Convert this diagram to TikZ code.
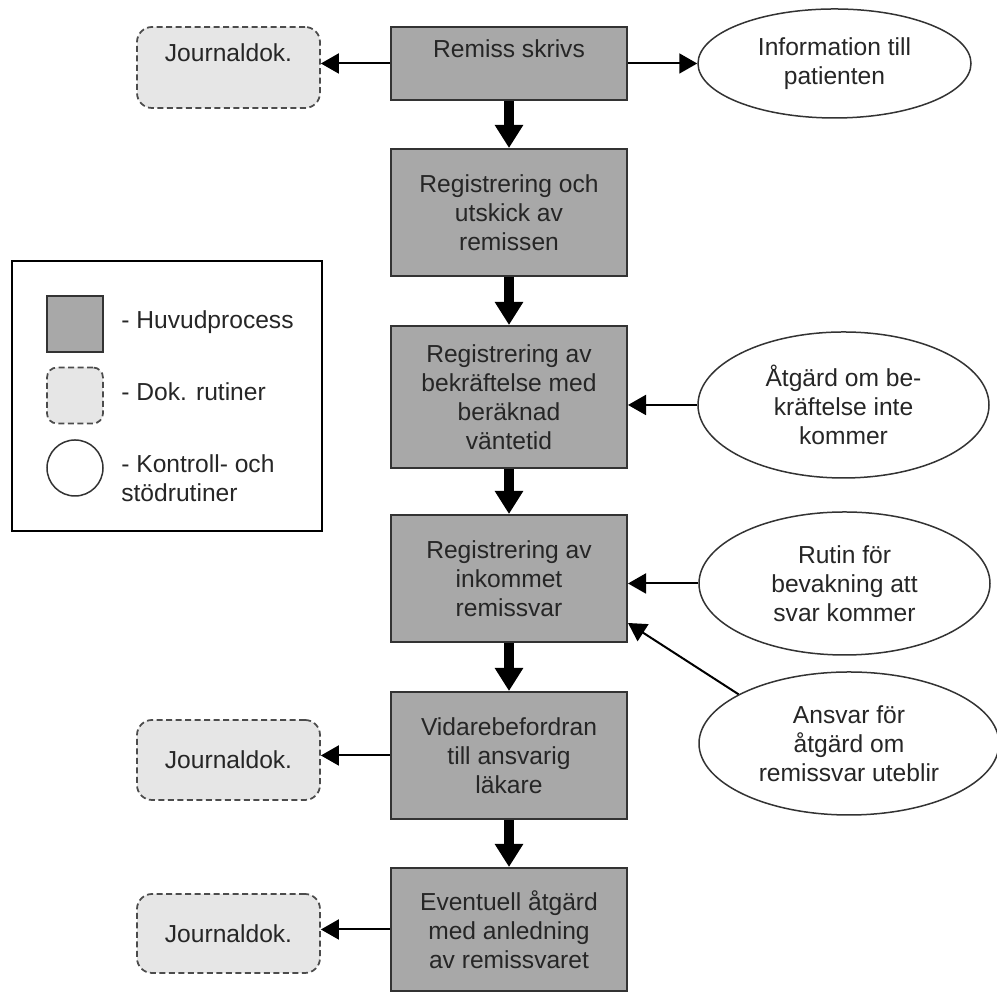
\documentclass[tikz,border=0pt]{standalone}
\usepackage{fontspec}
\setmainfont{Liberation Sans}
\usetikzlibrary{arrows.meta}
\usetikzlibrary{shapes.geometric}
\definecolor{procgray}{RGB}{168,168,168}
\definecolor{dokgray}{RGB}{230,230,230}
\tikzset{
 proc/.style={draw=black!80, line width=0.04cm, fill=procgray, minimum width=4.72cm, inner sep=0, align=center},
 dok/.style={draw=black!70, line width=0.035cm, dash pattern=on 0.12cm off 0.07cm, rounded corners=0.3cm, fill=dokgray, minimum width=3.66cm, inner sep=0, align=center},
 kontroll/.style={ellipse, draw=black!80, line width=0.03cm, fill=white, inner sep=0, align=center},
 mainarrow/.style={line width=0.2cm, ->, >={Triangle[length=0.46cm,width=0.54cm]}},
 sidearrow/.style={line width=0.04cm, ->, >={Triangle[length=0.36cm,width=0.4cm]}}
}

\begin{document}
\begin{tikzpicture}[font=\fontsize{14}{16.5}\selectfont, text=black!85]
\useasboundingbox (0,0) rectangle (19.94,19.84);
% huvudprocess
\node[proc, minimum height=1.46cm] (remiss) at (10.18,18.57) {Remiss skrivs\\ \mbox{}};
\node[proc, minimum height=2.54cm] (utskick) at (10.18,15.59) {Registrering och\\utskick av\\remissen};
\node[proc, minimum height=2.84cm] (bekraft) at (10.18,11.9) {Registrering av\\bekräftelse med\\beräknad\\väntetid};
\node[proc, minimum height=2.54cm] (inkommet) at (10.18,8.27) {Registrering av\\inkommet\\remissvar};
\node[proc, minimum height=2.54cm] (vidare) at (10.18,4.73) {Vidarebefordran\\till ansvarig\\läkare};
\node[proc, minimum height=2.46cm] (eventuell) at (10.18,1.25) {Eventuell åtgärd\\med anledning\\av remissvaret};
% dok. rutiner
\node[dok, minimum height=1.62cm] (jd1) at (4.57,18.49) {Journaldok.\\ \mbox{}};
\node[dok, minimum height=1.6cm] (jd2) at (4.57,4.64) {Journaldok.};
\node[dok, minimum height=1.58cm] (jd3) at (4.57,1.17) {Journaldok.};
% kontroll- och stödrutiner
\node[kontroll, minimum width=5.46cm, minimum height=2.18cm] (info) at (16.69,18.57) {Information till\\patienten};
\node[kontroll, minimum width=5.82cm, minimum height=2.92cm] (atgard) at (16.87,11.74) {Åtgärd om be-\\kräftelse inte\\kommer};
\node[kontroll, minimum width=5.82cm, minimum height=2.86cm] (rutin) at (16.89,8.17) {Rutin för\\bevakning att\\svar kommer};
\node[kontroll, minimum width=6.0cm, minimum height=2.86cm] (ansvar) at (16.98,4.97) {Ansvar för\\åtgärd om\\remissvar uteblir};
% legend
\node[draw=black, line width=0.04cm, minimum width=6.2cm, minimum height=5.4cm] (legend) at (3.34,11.92) {};
\node[proc, minimum width=1.12cm, minimum height=1.12cm] (legproc) at (1.5,13.36) {};
\node[dok, minimum width=1.12cm, minimum height=1.12cm, rounded corners=0.2cm] (legdok) at (1.5,11.93) {};
\node[circle, draw=black!80, line width=0.03cm, minimum size=1.12cm, inner sep=0] (legkontroll) at (1.5,10.48) {};
\node[anchor=west, inner sep=0] (legproctext) at (2.42,13.4) {- Huvudprocess};
\node[anchor=west, inner sep=0] (legdoktext) at (2.42,12.0) {- Dok. rutiner};
\node[anchor=west, inner sep=0, align=left] (legkontrolltext) at (2.42,10.28) {- Kontroll- och\\stödrutiner};
% pilar
\foreach \a/\b in {remiss/utskick, utskick/bekraft, bekraft/inkommet, inkommet/vidare, vidare/eventuell}
 \draw[mainarrow] (\a) -- (\b);
\draw[sidearrow] (remiss.west) -- (remiss.west -| jd1.east);
\draw[sidearrow] (remiss.east) -- (info.west);
\draw[sidearrow] (atgard.west) -- (atgard.west -| bekraft.east);
\draw[sidearrow] (rutin.west) -- (rutin.west -| inkommet.east);
\draw[sidearrow] (ansvar.156) -- ([yshift=0.4cm]inkommet.south east);
\draw[sidearrow] (vidare.west) -- (vidare.west -| jd2.east);
\draw[sidearrow] (eventuell.west) -- (eventuell.west -| jd3.east);
\end{tikzpicture}
\end{document}
